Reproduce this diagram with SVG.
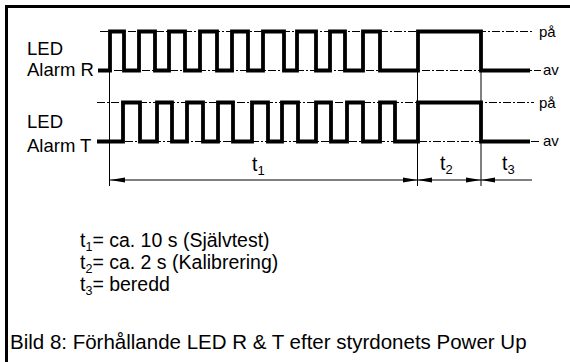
<svg xmlns="http://www.w3.org/2000/svg" width="570" height="362" viewBox="0 0 570 362">
<style>
text{font-family:"Liberation Sans",Arial,sans-serif;fill:#000}
.lbl{font-size:18.5px}
.lvl{font-size:15px}
.tl{font-size:19.5px}
.leg{font-size:19.5px}
.cap{font-size:20.5px}
.ref{fill:none;stroke:#000;stroke-width:1;stroke-dasharray:8 2 2 2}
.trace{fill:none;stroke:#000;stroke-width:3.8;stroke-linejoin:miter;stroke-linecap:butt}
.thin{fill:none;stroke:#000;stroke-width:1}
.ah{fill:#000}
</style>
<rect width="570" height="362" fill="#fff"/>
<path d="M6.5,362 V6.5 H570" fill="none" stroke="#000" stroke-width="3"/>

<g id="ref-lines">
<line class="ref" x1="100" y1="31.5" x2="534" y2="31.5"/>
<line class="ref" x1="100" y1="70.5" x2="541" y2="70.5"/>
<line class="ref" x1="97" y1="102.5" x2="534" y2="102.5"/>
<line class="ref" x1="97" y1="141.5" x2="541" y2="141.5"/>
</g>

<g id="led-r">
<text class="lbl" x="27" y="55">LED</text>
<text class="lbl" x="27" y="76">Alarm R</text>
<path class="trace" d="M98,70.5 H110 V31.5 H124 V70.5 H139 V31.5 H155 V70.5 H169 V31.5 H185 V70.5 H200 V31.5 H217 V70.5 H232 V31.5 H248 V70.5 H263 V31.5 H284 V70.5 H297 V31.5 H316 V70.5 H330 V31.5 H345 V70.5 H363 V31.5 H380 V70.5 H418 V31.5 H481 V70.5 H530"/>
<text class="lvl" x="539" y="37">på</text>
<text class="lvl" x="543" y="75">av</text>
</g>

<g id="led-t">
<text class="lbl" x="27" y="128">LED</text>
<text class="lbl" x="27" y="152">Alarm T</text>
<path class="trace" d="M97,141.5 H123 V102.5 H140 V141.5 H157 V102.5 H172 V141.5 H187 V102.5 H203 V141.5 H218 V102.5 H233 V141.5 H252 V102.5 H268 V141.5 H282 V102.5 H298 V141.5 H316 V102.5 H331 V141.5 H347 V102.5 H363 V141.5 H380 V102.5 H395 V141.5 H418 V102.5 H481 V141.5 H530"/>
<text class="lvl" x="539" y="108">på</text>
<text class="lvl" x="543" y="146">av</text>
</g>

<g id="connectors">
<line class="thin" x1="109.5" y1="70" x2="109.5" y2="186"/>
<line class="thin" x1="417.5" y1="70" x2="417.5" y2="186"/>
<line class="thin" x1="481" y1="70" x2="481" y2="186"/>
<line class="thin" x1="110" y1="180" x2="532" y2="180"/>
<polygon class="ah" points="110,180 125,177.5 125,182.5"/>
<polygon class="ah" points="417.5,180 403,177.5 403,182.5"/>
<polygon class="ah" points="417.5,180 432,177.5 432,182.5"/>
<polygon class="ah" points="481,180 466,177.5 466,182.5"/>
<polygon class="ah" points="481,180 495,177.5 495,182.5"/>
</g>

<g id="durations">
<text class="tl" x="252" y="171">t<tspan font-size="13" dy="4">1</tspan></text>
<text class="tl" x="440" y="170">t<tspan font-size="13" dy="4">2</tspan></text>
<text class="tl" x="502" y="170">t<tspan font-size="13" dy="4">3</tspan></text>
</g>

<g id="legend">
<text class="leg" x="80" y="247">t<tspan font-size="12.5" dy="4">1</tspan><tspan dy="-4">= ca. 10 s (Självtest)</tspan></text>
<text class="leg" x="80" y="269">t<tspan font-size="12.5" dy="4">2</tspan><tspan dy="-4">= ca. 2 s (Kalibrering)</tspan></text>
<text class="leg" x="80" y="291">t<tspan font-size="12.5" dy="4">3</tspan><tspan dy="-4">= beredd</tspan></text>
</g>

<g id="caption">
<text class="cap" x="10" y="349">Bild 8: Förhållande LED R &amp; T efter styrdonets Power Up</text>
</g>
</svg>
